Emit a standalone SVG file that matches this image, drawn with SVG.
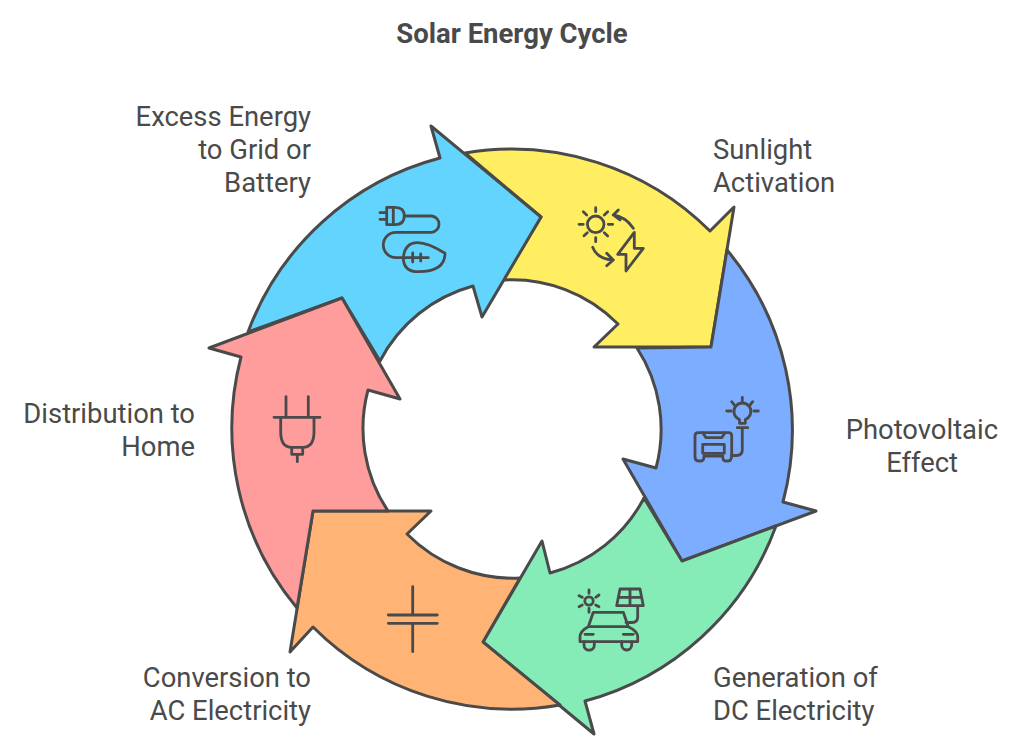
<svg xmlns="http://www.w3.org/2000/svg" width="1024" height="751" viewBox="0 0 1024 751">
<style>
text{font-family:Roboto,"Liberation Sans",sans-serif;font-size:27.4px;fill:#4a4a4a}
.t{font-weight:700;font-size:27.5px}
.e{text-anchor:end}
.a{stroke:#4a4a4a;stroke-width:3;stroke-linejoin:round;stroke-linecap:round}
.i{fill:none;stroke:#4a4a4a;stroke-width:2.8;stroke-linejoin:round;stroke-linecap:round}
</style>
<rect width="1024" height="751" fill="#fff"/>
<text class="t" x="512" y="43" text-anchor="middle">Solar Energy Cycle</text>
<g id="connectors"></g>
<g id="node-yellow">
<path class="a" fill="#FFEE62" d="M465,153A281,281 0 0 1 710,231L734,207L711,347L594,347L618,324A149,149 0 0 0 503,280L541,217Z"/>
<g class="i"><circle cx="595.7" cy="224.3" r="8.3"/>
<path d="M595.7,207.7V211.7M595.7,237.7V241.7M579,224.3H583.3M608.3,224.3H612.7M583.3,211.7L586.7,215M607.7,211.7L604.3,215M584,235.7L587.3,232.7M607.7,236L604.3,232.7"/>
<path d="M633.3,228.3Q626,217 613.3,215M618.3,210L613.3,215L620,220M592.7,247.3Q597,259 613.3,260M606.7,253.3L613.3,260L606.7,265.7"/>
<path d="M634.3,232.3L617.7,254.3H626V271L643.3,248.3H634.3Z"/></g>
<text x="713" y="159">Sunlight</text><text x="713" y="192">Activation</text>
</g>
<g id="node-blue">
<path class="a" fill="#7DADFF" d="M727,250A281,281 0 0 1 783,502L816,511L682,561L623,459L656,468A149,149 0 0 0 637,348L711,347Z"/>
<g class="i"><path d="M698,432.7H728.7Q731.7,432.7 731.7,436V455Q731.7,461 728,461H725.5Q722.7,461 722.7,456H704Q704,461 701,461H698.5Q695,461 695,457V436Q695,432.7 698,432.7Z"/>
<rect x="702.7" y="444.3" width="21.6" height="9"/>
<path d="M702.7,432.7L706,437.7H721.7L725,432.7M731.7,455.5H736.5Q742.3,455.5 742.3,450V427.7M737.3,427.7H747.7"/>
<path d="M739.5,423.3V419.5A8.5,8.5 0 1 1 745.3,419.5V423.3Z"/>
<path d="M742.3,397.3V401.7M731.7,401.7L734.3,405M752.7,401.7L750,405M726.7,411H731M754,411H758.3"/></g>
<text x="998" y="439" class="e">Photovoltaic</text><text x="958" y="472" class="e">Effect</text>
</g>
<g id="node-green">
<path class="a" fill="#85EBB7" d="M776,526A281,281 0 0 1 585,701L594,734L483,642L542,541L550,573A149,149 0 0 0 644,498L682,561Z"/>
<g class="i"><circle cx="589" cy="601" r="4.2"/>
<path d="M589,590V593.3M589,608.3V612.3M579,595.7L582.3,597.3M599,595L595.7,597.3M579,606.7L582.3,605M599,606.7L595.7,605"/>
<path d="M620,589H640L643.3,605.7H616.7ZM630,589V605.7M618.3,597.3H641.7M637.7,605.7V617Q637.7,622.5 632,622.5H626"/>
<path d="M588.3,626.7L593.3,612.3H623.3L628.3,626.7ZM588.3,626.7Q580,631 580,637V641.7H637.7V637Q637.7,631 628.3,626.7M585,634.3H593.3M623.3,634.3H633.3"/>
<path d="M584,641.7V645A5,5 0 0 0 594.3,645V641.7M621.7,641.7V645A5,5 0 0 0 631.7,645V641.7"/></g>
<text x="713" y="687">Generation of</text><text x="713" y="720">DC Electricity</text>
</g>
<g id="node-orange">
<path class="a" fill="#FFB475" d="M560,705A281,281 0 0 1 313,627L290,652L313,511L431,511L407,534A149,149 0 0 0 520,578L483,642Z"/>
<path class="i" d="M412.7,586.7V615M388.3,615H437.3M388.3,623.3H437.3M412.7,623.3V651.7"/>
<text x="311" y="687" class="e">Conversion to</text><text x="311" y="720" class="e">AC Electricity</text>
</g>
<g id="node-sky">
<path class="a" fill="#62D4FE" d="M248,332A281,281 0 0 1 440,158L431,126L541,217L482,317L473,286A149,149 0 0 0 380,361L342,298Z"/>
<g class="i"><path d="M386.7,207.3H395Q404.3,207.3 404.3,216Q404.3,224.7 395,224.7H386.7ZM393.3,207.3V224.7M380,212.7H386.7M380,219.3H386.7"/>
<path d="M404.3,216H431.7A8.2,8.2 0 0 1 431.7,232.3H396A12.7,12.7 0 0 0 396,257.7H428.3"/>
<path d="M403.3,257.7Q405,242.7 417.3,242.7Q428,242.7 445,253.3Q445,271.7 418.3,271.7Q403.3,271.7 403.3,257.7ZM412.7,253V262M420.7,254V261"/></g>
<text x="311" y="126" class="e">Excess Energy</text><text x="311" y="159" class="e">to Grid or</text><text x="311" y="192" class="e">Battery</text>
</g>
<g id="node-pink">
<path class="a" fill="#FF9C9C" d="M297,608A281,281 0 0 1 241,357L209,348L342,298L400,399L368,390A149,149 0 0 0 388,511L313,511Z"/>
<path class="i" d="M286,396.7V417.3M308.3,396.7V417.3M274,417.3H320M280.7,417.3V431.7Q280.7,447.3 291.7,447.3H302.7Q314,447.3 314,431.7V417.3M291.7,447.3V454.3H302.7V447.3M297.3,455V461.7"/>
<text x="195" y="423" class="e">Distribution to</text><text x="195" y="456" class="e">Home</text>
</g>
</svg>
